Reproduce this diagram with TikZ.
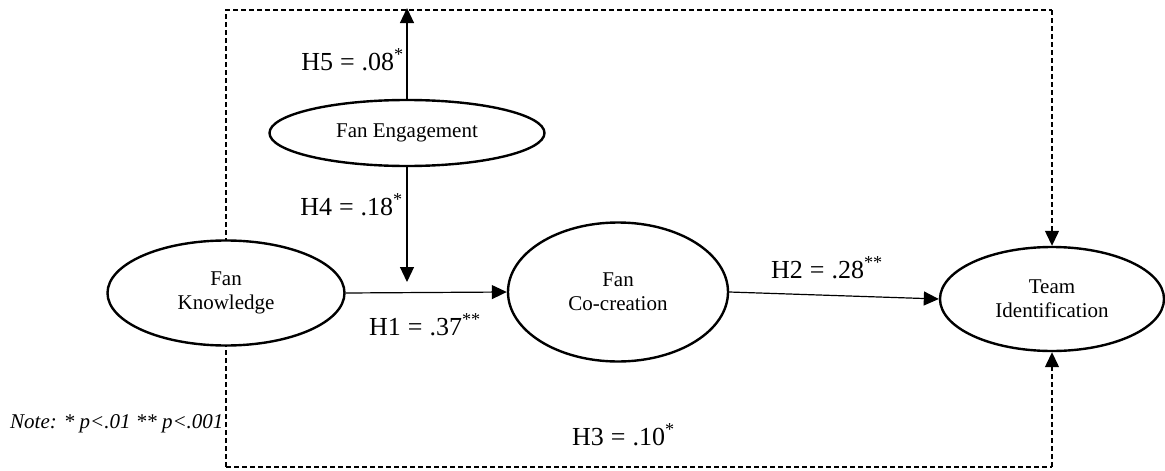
\documentclass[tikz,border=0pt]{standalone}
\usepackage{fontspec}
\setmainfont{Liberation Serif}
\usetikzlibrary{shapes.geometric,arrows.meta}
\newcommand{\hypval}[3]{H#1\hspace{7pt}=\hspace{7pt}#2\textsuperscript{#3}}
\tikzset{
  construct/.style={ellipse,draw,line width=2.4pt,fill=white,inner sep=0pt,align=center,font=\fontsize{21}{24}\selectfont},
  path/.style={line width=1.2pt,-{Triangle[length=15pt,width=14pt]}},
  dashedpath/.style={line width=1.3pt,dash pattern=on 5pt off 3pt,-{Triangle[length=15pt,width=14pt]}},
  dashedline/.style={line width=1.3pt,dash pattern=on 5pt off 3pt},
  hlabel/.style={inner sep=0pt,font=\fontsize{26}{29}\selectfont},
  note/.style={inner sep=0pt,font=\fontsize{21}{24}\selectfont\itshape}
}
\begin{document}
\begin{tikzpicture}[x=1pt,y=-1pt]
\useasboundingbox (0,0) rectangle (1165,471);
% coordinates of dashed frame
\coordinate (tl) at (226,10);
\coordinate (tr) at (1052,10);
\coordinate (bl) at (226,467);
\coordinate (br) at (1052,467);
\coordinate (h5end) at (407,8);
\coordinate (h4end) at (407,282);
% dashed frame lines (drawn first, behind ellipses)
\draw[dashedline] (bl) -- (tl) -- (tr);
\draw[dashedline] (bl) -- (br);
% nodes
\node[construct,minimum width=237pt,minimum height=105pt] (fk) at (226,293) {Fan\\Knowledge};
\node[construct,minimum width=275pt,minimum height=66pt] (fe) at (407,133) {Fan Engagement};
\node[construct,minimum width=220pt,minimum height=139pt] (cc) at (618,292) {Fan\\Co-creation};
\node[construct,minimum width=224pt,minimum height=104pt] (ti) at (1052,299) {Team\\Identification};
% dashed arrows to team identification
\draw[dashedpath] (tr) -- (ti.north);
\draw[dashedpath] (br) -- (ti.south);
% solid paths
\draw[path] (fk.east) -- (cc.west);
\draw[path] (cc.east) -- (ti.west);
\draw[path] (fe.south) -- (h4end);
\draw[path] (fe.north) -- (h5end);
% labels
\node[hlabel,anchor=base east] (l5) at (404,70) {\hypval{5}{.08}{*}};
\node[hlabel,anchor=base east] (l4) at (403,215) {\hypval{4}{.18}{*}};
\node[hlabel,anchor=base west] (l1) at (369,335) {\hypval{1}{.37}{**}};
\node[hlabel,anchor=base west] (l2) at (771,278) {\hypval{2}{.28}{**}};
\node[hlabel,anchor=base west] (l3) at (572,445) {\hypval{3}{.10}{*}};
\node[note,anchor=base west] (nt) at (10,428) {Note: * p<.01 ** p<.001};
\end{tikzpicture}
\end{document}
